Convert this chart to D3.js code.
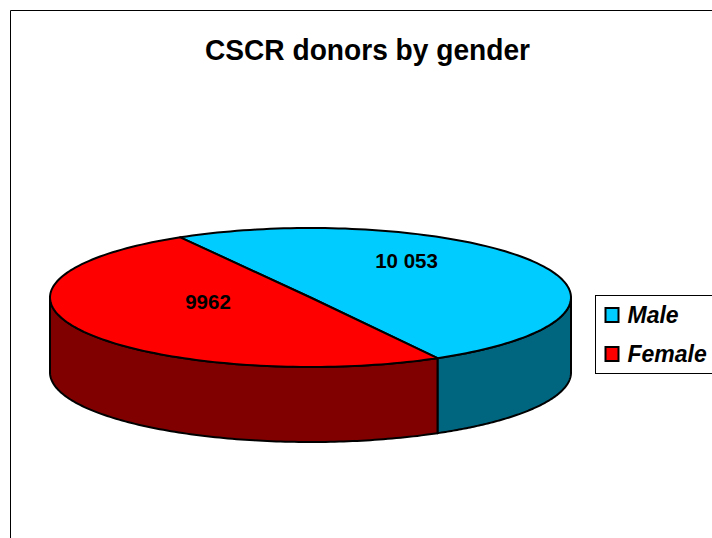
<!DOCTYPE html>
<html><head><meta charset="utf-8">
<script src="https://cdn.jsdelivr.net/npm/d3@7"></script>
<style>html,body{margin:0;padding:0;background:#fff;overflow:hidden}svg{display:block}
text{font-family:"Liberation Sans",Arial,sans-serif;font-weight:bold;fill:#000}</style>
</head><body><svg id="c" width="712" height="538"></svg>
<script>
const categories = ["Male", "Female"];
const values = [10053, 9962];
const valueLabels = ["10 053", "9962"];
const topColors = ["#00ccff", "#ff0000"];
const sideColors = ["#006680", "#800000"];
const titleText = "CSCR donors by gender";

const W = 712, H = 538;
const cx = 310.5, cy = 297.5, rx = 260.5, ry = 69.5, depth = 75;
const svg = d3.select("#c");

// chart frame
svg.append("path").attr("d", `M10.5,${H}V10.5H${W}`).attr("fill", "none").attr("stroke", "#000").attr("stroke-width", 1);

svg.append("text").attr("x", 367.5).attr("y", 59.5).attr("text-anchor", "middle")
  .attr("font-size", 29).attr("textLength", 325).attr("lengthAdjust", "spacingAndGlyphs").text(titleText);

const start = -30 * Math.PI / 180;
const pie = d3.pie().sort(null).startAngle(start).endAngle(start + 2 * Math.PI);
const arcs = pie(values);
const px = d3.scaleLinear().domain([-1, 1]).range([cx - rx, cx + rx]);
const py = d3.scaleLinear().domain([-1, 1]).range([cy - ry, cy + ry]);
const line = d3.line();
const pt = (a, dy = 0) => [px(Math.sin(a)), py(-Math.cos(a)) + dy];
const sample = (a0, a1, dy = 0) => d3.range(0, 121).map(i => pt(a0 + (a1 - a0) * i / 120, dy));

// visible side walls: front half of the ellipse, from 90deg to 270deg
arcs.forEach((d, i) => {
  const a0 = Math.max(d.startAngle, Math.PI / 2), a1 = Math.min(d.endAngle, 1.5 * Math.PI);
  if (a1 <= a0) return;
  const pts = sample(a0, a1).concat(sample(a1, a0, depth));
  svg.append("path").attr("d", line(pts) + "Z").attr("fill", sideColors[i])
    .attr("stroke", "#000").attr("stroke-width", 2).attr("stroke-linejoin", "round");
});
// top faces
arcs.forEach((d, i) => {
  const pts = [[cx, cy]].concat(sample(d.startAngle, d.endAngle));
  svg.append("path").attr("d", line(pts) + "Z").attr("fill", topColors[i])
    .attr("stroke", "#000").attr("stroke-width", 2).attr("stroke-linejoin", "round");
});
// value labels
const labelPos = [[406.5, 268], [208, 309]];
valueLabels.forEach((t, i) => {
  svg.append("text").attr("x", labelPos[i][0]).attr("y", labelPos[i][1]).attr("text-anchor", "middle")
    .attr("font-size", 20.5).text(t);
});

// legend
svg.append("rect").attr("x", 595.5).attr("y", 295.5).attr("width", 130).attr("height", 78)
  .attr("fill", "#fff").attr("stroke", "#000").attr("stroke-width", 1);
const legY = d3.scalePoint().domain(categories).range([315, 354]);
categories.forEach((c, i) => {
  svg.append("rect").attr("x", 605.5).attr("y", legY(c) - 7).attr("width", 13).attr("height", 14)
    .attr("fill", topColors[i]).attr("stroke", "#000").attr("stroke-width", 2);
  svg.append("text").attr("x", 627.5).attr("y", legY(c) + 8).attr("font-size", 23)
    .attr("font-style", "italic").text(c);
});
</script></body></html>
